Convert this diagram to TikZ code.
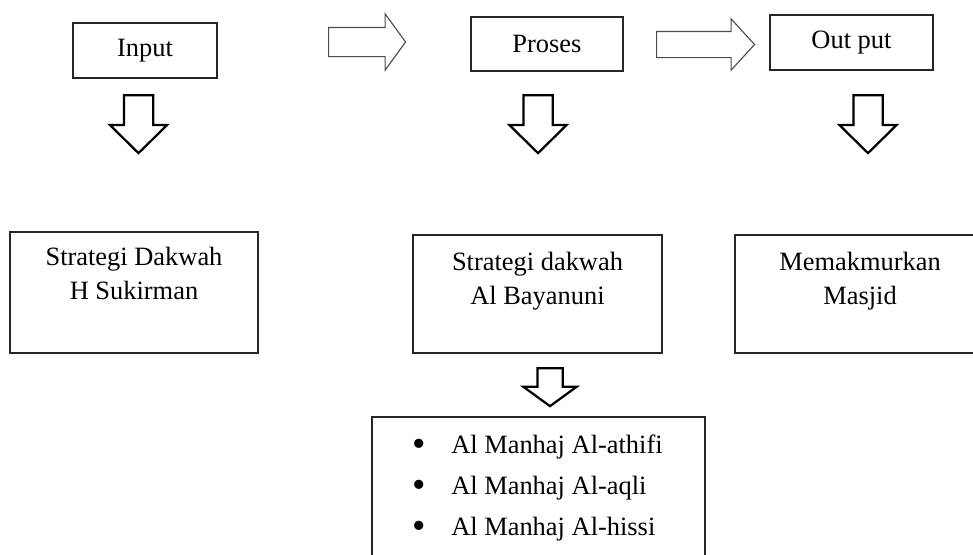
\documentclass[tikz,border=0pt]{standalone}
\usepackage{fontspec}
\setmainfont{Liberation Serif}
\usetikzlibrary{shapes.arrows, positioning}

\newcommand{\listdot}{\makebox[0.975cm][l]{\raisebox{-0.09em}{\scalebox{1.45}{\textbullet}}}}

\begin{document}
\begin{tikzpicture}[
    every node/.style={font=\fontsize{18.8}{23.5}\selectfont},
    box/.style={draw=black!85, line width=0.9pt, inner sep=0pt, align=center},
    txt/.style={inner sep=0pt, align=center},
    rarrow/.style={single arrow, draw=black!70, line width=0.8pt, inner xsep=0pt, anchor=tail},
    darrow/.style={single arrow, draw=black, line width=1.6pt, rotate=-90, inner xsep=0pt, anchor=tail}
]
\useasboundingbox (0,0) rectangle (24.325,-13.85);

% top row
\node[box, minimum width=3.6cm, minimum height=1.375cm] (inp) at (3.625,-1.2625) {Input};
\node[box, minimum width=3.8cm, minimum height=1.35cm] (proc) at (13.675,-1.1) {Proses};
\node[box, minimum width=4.075cm, minimum height=1.375cm] (outp) at (21.2875,-1.0625) {Out put};

\node[rarrow, minimum height=1.925cm, inner ysep=0.35cm, single arrow head extend=0.3375cm, single arrow tip angle=108] (ra1) at (8.2,-1.05) {};
\node[rarrow, minimum height=2.45cm, inner ysep=0.3125cm, single arrow head extend=0.3125cm, single arrow tip angle=95] (ra2) at (16.4,-1.1125) {};

% down arrows
\node[darrow, minimum height=1.45cm, inner ysep=0.3375cm, single arrow head extend=0.35cm, single arrow tip angle=91] (da1) at (3.4625,-2.35) {};
\node[darrow, minimum height=1.45cm, inner ysep=0.3375cm, single arrow head extend=0.35cm, single arrow tip angle=91] (da2) at (13.45,-2.35) {};
\node[darrow, minimum height=1.45cm, inner ysep=0.3375cm, single arrow head extend=0.35cm, single arrow tip angle=91] (da3) at (21.7,-2.35) {};

% middle row
\node[box, minimum width=6.2cm, minimum height=3.025cm] (suk) at (3.35,-7.3125) {};
\node[txt, below=0.4cm of suk.north] (suktxt) {Strategi Dakwah\\ H Sukirman};

\node[box, minimum width=6.225cm, minimum height=2.95cm] (bay) at (13.4375,-7.35) {};
\node[txt, below=0.45cm of bay.north] (baytxt) {Strategi dakwah\\ Al Bayanuni};

\node[box, minimum width=6.25cm, minimum height=2.95cm] (mak) at (21.5,-7.35) {};
\node[txt, below=0.45cm of mak.north] (maktxt) {Memakmurkan\\ Masjid};

% bottom
\node[darrow, minimum height=0.95cm, inner ysep=0.2875cm, single arrow head extend=0.35cm, single arrow tip angle=108] (da4) at (13.75,-9.175) {};

\node[box, minimum width=8.325cm, minimum height=5.075cm] (meth) at (13.4625,-12.9625) {};
\node[txt, align=left, anchor=north west, font=\fontsize{18.8}{29.2}\selectfont] (methtxt) at (10.3,-10.875)
    {\listdot Al Manhaj Al-athifi\\
     \listdot Al Manhaj Al-aqli\\
     \listdot Al Manhaj Al-hissi};

\end{tikzpicture}
\end{document}
